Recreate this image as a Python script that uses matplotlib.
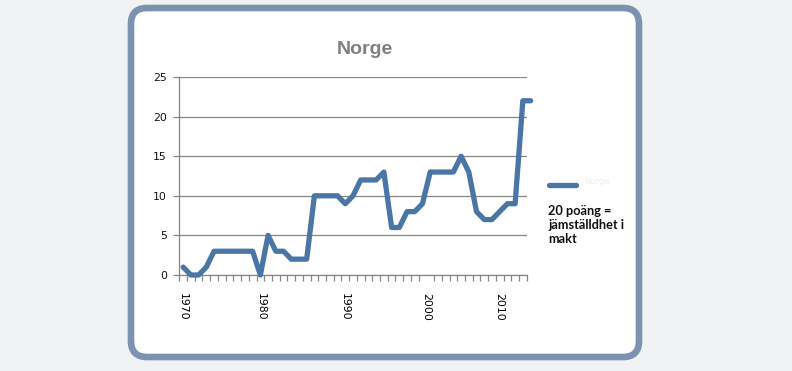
import matplotlib
matplotlib.use("Agg")
import matplotlib.pyplot as plt
from matplotlib.patches import FancyBboxPatch
import numpy as np

# ---- data ----
years = list(range(1970, 2016))
values = [1, 0, 0, 1, 3, 3, 3, 3, 3, 3, 0, 5, 3, 3, 2, 2, 2, 10, 10, 10,
          10, 9, 10, 12, 12, 12, 13, 6, 6, 8, 8, 9, 13, 13, 13, 13, 15, 13, 8, 7,
          7, 8, 9, 9, 22, 22]
tick_labels = ["1970", "1980", "1990", "2000", "2010"]
tick_index = [0, 10, 21, 31.5, 41]
y_ticks = [0, 5, 10, 15, 20, 25]
title = "Norge"
series_name = "Norge"
note = "20 poäng =\njämställdhet i\nmakt"

W, H = 792, 371
fig = plt.figure(figsize=(W / 100, H / 100), dpi=100)
fig.patch.set_facecolor("#F1F2F4")

# background frame (pixel coordinates)
bg = fig.add_axes([0, 0, 1, 1])
bg.set_xlim(0, W)
bg.set_ylim(H, 0)
bg.axis("off")
frame = FancyBboxPatch((131, 8), 508, 349,
                       boxstyle="round,pad=0,rounding_size=16",
                       facecolor="white", edgecolor="#7B93B0", linewidth=4.8)
bg.add_patch(frame)

line_color = "#4A76A6"

# plot area
ax = fig.add_axes([179.3 / W, 1 - 275 / H, (526.7 - 179.3) / W, (275 - 77) / H])
ax.set_facecolor("none")
x = np.arange(len(values))
ax.plot(x, values, color=line_color, linewidth=3.8, solid_joinstyle="round",
        solid_capstyle="round", clip_on=False, zorder=3)
ax.set_xlim(-0.5, 44.5)
ax.set_ylim(0, 25)
ax.set_yticks(y_ticks)
ax.set_yticklabels([str(v) for v in y_ticks], fontsize=7.8, color="#111111",
                   family="DejaVu Sans")
ax.yaxis.grid(True, color="#868686", linewidth=0.9)
ax.set_axisbelow(True)
for s in ["top", "right"]:
    ax.spines[s].set_visible(False)
for s in ["left", "bottom"]:
    ax.spines[s].set_color("#868686")
    ax.spines[s].set_linewidth(0.9)
ax.tick_params(axis="y", length=4, width=0.9, color="#868686", pad=5)

ax.set_xticks(np.arange(-0.5, 45, 1), minor=True)
ax.set_xticks(tick_index)
ax.set_xticklabels(tick_labels, rotation=-90, fontsize=7.8, color="#000000",
                   family="DejaVu Sans", va="top", ha="center")
ax.tick_params(axis="x", which="major", length=0, pad=13)
ax.tick_params(axis="x", which="minor", length=4, width=0.9, color="#868686")

# title
fig.text(364.5 / W, 1 - 49 / H, title, ha="center", va="center",
         fontsize=14, fontweight="bold", color="#808080", family="Liberation Sans")

# legend
bg.plot([549, 576], [185, 185], color=line_color, linewidth=3.8,
        solid_capstyle="round")
bg.text(584, 181, series_name, fontsize=6, color="#ECECEC", va="center",
        ha="left")
bg.text(548, 205, note, fontsize=9.2, fontweight="bold", color="#111111",
        va="top", ha="left", family="Lato", linespacing=1.2)

fig.savefig("out.png", dpi=100, facecolor=fig.get_facecolor())
